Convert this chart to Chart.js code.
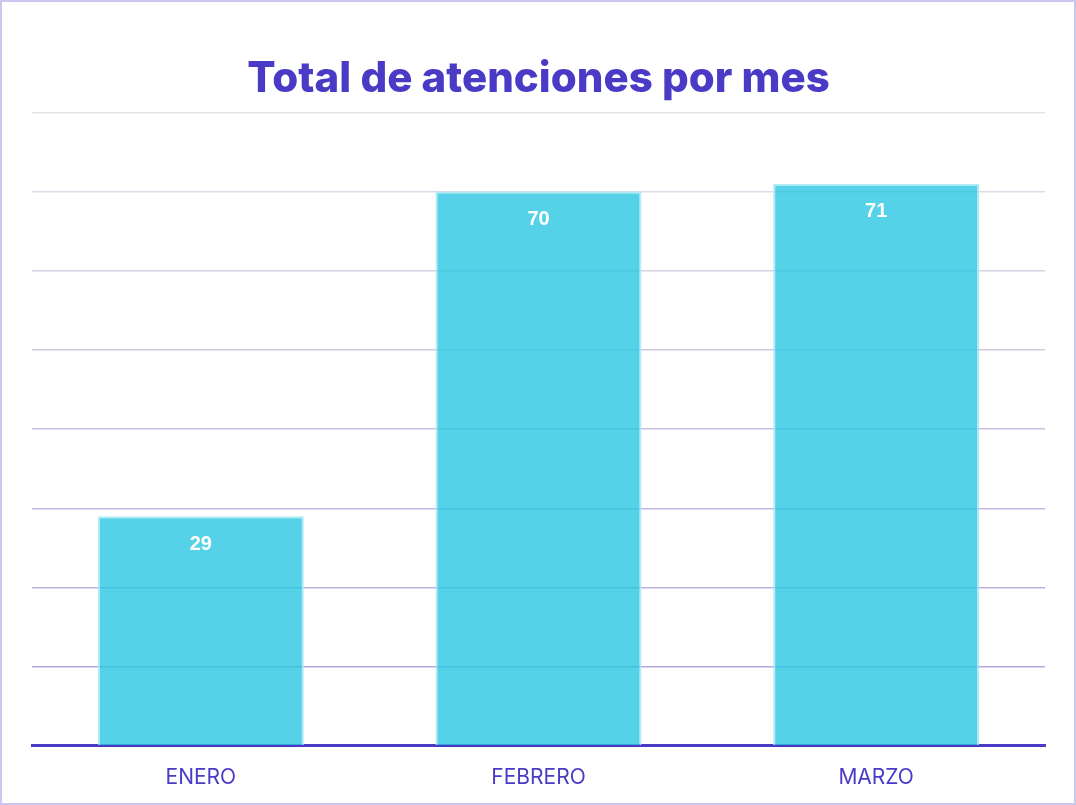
<!DOCTYPE html>
<html>
<head>
<meta charset="utf-8">
<script src="https://cdn.jsdelivr.net/npm/chart.js@4.4.1/dist/chart.umd.min.js"></script>
<style>
  html, body { margin: 0; padding: 0; background: #fff; }
  .tarjeta { width: 1076px; height: 805px; box-sizing: border-box; border: 2px solid #cbc7f1; position: relative; }
  .tarjeta canvas { display: block; }
</style>
</head>
<body>
<div class="tarjeta"><canvas id="chartMeses" width="1072" height="801"></canvas></div>
<script>
const titulo = 'Total de atenciones por mes';
const meses = ['ENERO', 'FEBRERO', 'MARZO'];
const atenciones = [29, 70, 71];

const morado = '#4a3bc6';

// gridlines: gris claro arriba, lila hacia abajo
function colorGrid(ctx) {
    const v = ctx.tick ? ctx.tick.value : 0;
    const t = Math.max(0, Math.min(1, (80 - v) / 70));
    const r = Math.round(228 - t * 50);
    const g = Math.round(228 - t * 60);
    const b = Math.round(232 - t * 10);
    return `rgb(${r},${g},${b})`;
}

const etiquetasBarras = {
    id: 'etiquetasBarras',
    afterDatasetsDraw(chart) {
        const ctx = chart.ctx;
        const meta = chart.getDatasetMeta(0);
        ctx.save();
        ctx.fillStyle = '#ffffff';
        ctx.font = 'bold 20px "Liberation Sans", Arial, sans-serif';
        ctx.textAlign = 'center';
        ctx.textBaseline = 'middle';
        meta.data.forEach((barra, i) => {
            ctx.fillText(String(atenciones[i]), barra.x, barra.y + 28);
        });
        ctx.restore();
    }
};

new Chart(document.getElementById('chartMeses'), {
    type: 'bar',
    data: {
        labels: meses,
        datasets: [{
            label: 'Atenciones',
            data: atenciones,
            backgroundColor: 'rgba(42,199,226,0.8)',
            borderColor: 'rgba(170,232,244,0.9)',
            borderWidth: 2,
            barPercentage: 0.61,
            categoryPercentage: 1
        }]
    },
    options: {
        responsive: false,
        animation: false,
        layout: { padding: { left: 30, right: 29, bottom: 2 } },
        plugins: {
            legend: { display: false },
            tooltip: { enabled: false },
            title: {
                display: true,
                text: titulo,
                color: morado,
                font: { family: 'Inter, Lato, sans-serif', size: 42, weight: '800' },
                padding: { top: 52, bottom: 8 }
            }
        },
        scales: {
            x: {
                grid: { display: false },
                border: { color: morado, width: 3 },
                ticks: { color: morado, font: { family: 'Inter, sans-serif', size: 21 }, padding: 11 }
            },
            y: {
                min: 0,
                max: 80,
                ticks: { display: false, stepSize: 10 },
                border: { display: false },
                grid: { color: colorGrid, lineWidth: 1.5, drawTicks: false }
            }
        }
    },
    plugins: [etiquetasBarras]
});
</script>
</body>
</html>
